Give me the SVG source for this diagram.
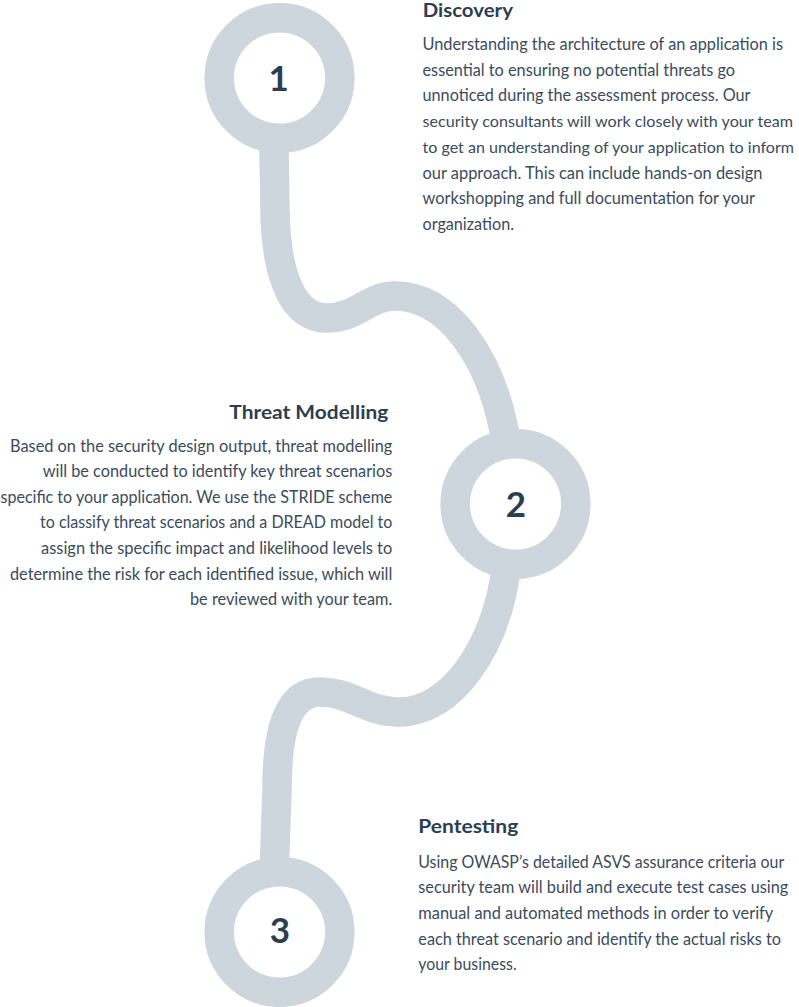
<svg xmlns="http://www.w3.org/2000/svg" width="799" height="1007" viewBox="0 0 799 1007">
<style>
.path{fill:none;stroke:#cdd5dd;stroke-width:29.5;stroke-linecap:butt;stroke-linejoin:round}
.ring{fill:#ffffff;stroke:#cdd5dd;stroke-width:29.5}
.num{font-family:Lato,"Liberation Sans",sans-serif;font-weight:700;font-size:35px;fill:#2c3e50;text-anchor:middle}
.head{font-family:Lato,"Liberation Sans",sans-serif;font-weight:700;font-size:19.5px;fill:#2c3e50}
.body{font-family:Lato,"Liberation Sans",sans-serif;font-size:16.5px;fill:#3a4b5d}
.tight{font-size:16px}
</style>
<rect x="0" y="0" width="799" height="1007" fill="#ffffff"/>
<g id="connectors">
<path class="path" d="M 273,90 L 275,210 C 276,280 295,318 326,318 C 358,318 368,296 395,296 C 450,296 490,360 504,430 L 515,504"/>
<path class="path" d="M 515,504 L 506,570 C 495,650 450,712 400,712 C 365,712 352,692 320,692 C 290,692 277,725 277,790 L 272,932"/>
</g>
<g id="node1">
<circle class="ring" cx="279.5" cy="78" r="60.3"/>
<text class="num" x="278.7" y="90.7">1</text>
</g>
<g id="node2">
<circle class="ring" cx="515.5" cy="504" r="60.3"/>
<text class="num" x="516" y="516.7">2</text>
</g>
<g id="node3">
<circle class="ring" cx="279.5" cy="932" r="60.3"/>
<text class="num" x="280" y="942.7">3</text>
</g>
<g id="discovery">
<text class="head" x="422.7" y="17.3" textLength="90.3" lengthAdjust="spacingAndGlyphs">Discovery</text>
<text class="body" x="422.5" y="50" textLength="360.5" lengthAdjust="spacingAndGlyphs">Understanding the architecture of an application is</text>
<text class="body" x="422.5" y="75.7" textLength="312.5" lengthAdjust="spacingAndGlyphs">essential to ensuring no potential threats go</text>
<text class="body" x="422.5" y="101.4" textLength="328" lengthAdjust="spacingAndGlyphs">unnoticed during the assessment process. Our</text>
<text class="body tight" x="422.5" y="127.1" textLength="370.5" lengthAdjust="spacingAndGlyphs">security consultants will work closely with your team</text>
<text class="body tight" x="422.5" y="152.8" textLength="371.5" lengthAdjust="spacingAndGlyphs">to get an understanding of your application to inform</text>
<text class="body" x="422.5" y="178.5" textLength="340" lengthAdjust="spacingAndGlyphs">our approach. This can include hands-on design</text>
<text class="body" x="422.5" y="204.2" textLength="332.5" lengthAdjust="spacingAndGlyphs">workshopping and full documentation for your</text>
<text class="body" x="422.5" y="229.9" textLength="91.5" lengthAdjust="spacingAndGlyphs">organization.</text>
</g>
<g id="threat-modelling">
<text class="head" x="229.3" y="419.3" textLength="159" lengthAdjust="spacingAndGlyphs">Threat Modelling</text>
<text class="body" x="10" y="451.5" textLength="382.3" lengthAdjust="spacingAndGlyphs">Based on the security design output, threat modelling</text>
<text class="body" x="42.7" y="477.1" textLength="349.6" lengthAdjust="spacingAndGlyphs">will be conducted to identify key threat scenarios</text>
<text class="body" x="0.5" y="502.7" textLength="391.8" lengthAdjust="spacingAndGlyphs">specific to your application. We use the STRIDE scheme</text>
<text class="body" x="40" y="528.3" textLength="352.3" lengthAdjust="spacingAndGlyphs">to classify threat scenarios and a DREAD model to</text>
<text class="body" x="41" y="553.9" textLength="351.3" lengthAdjust="spacingAndGlyphs">assign the specific impact and likelihood levels to</text>
<text class="body" x="10" y="579.5" textLength="382.3" lengthAdjust="spacingAndGlyphs">determine the risk for each identified issue, which will</text>
<text class="body" x="190" y="605.1" textLength="202.3" lengthAdjust="spacingAndGlyphs">be reviewed with your team.</text>
</g>
<g id="pentesting">
<text class="head" x="418.3" y="833.3" textLength="100" lengthAdjust="spacingAndGlyphs">Pentesting</text>
<text class="body" x="418.3" y="867.7" textLength="366" lengthAdjust="spacingAndGlyphs">Using OWASP’s detailed ASVS assurance criteria our</text>
<text class="body" x="418.3" y="893.3" textLength="370" lengthAdjust="spacingAndGlyphs">security team will build and execute test cases using</text>
<text class="body" x="418.3" y="918.9" textLength="355" lengthAdjust="spacingAndGlyphs">manual and automated methods in order to verify</text>
<text class="body" x="418.3" y="944.5" textLength="362.7" lengthAdjust="spacingAndGlyphs">each threat scenario and identify the actual risks to</text>
<text class="body" x="418.3" y="970.1" textLength="98.4" lengthAdjust="spacingAndGlyphs">your business.</text>
</g>
</svg>
